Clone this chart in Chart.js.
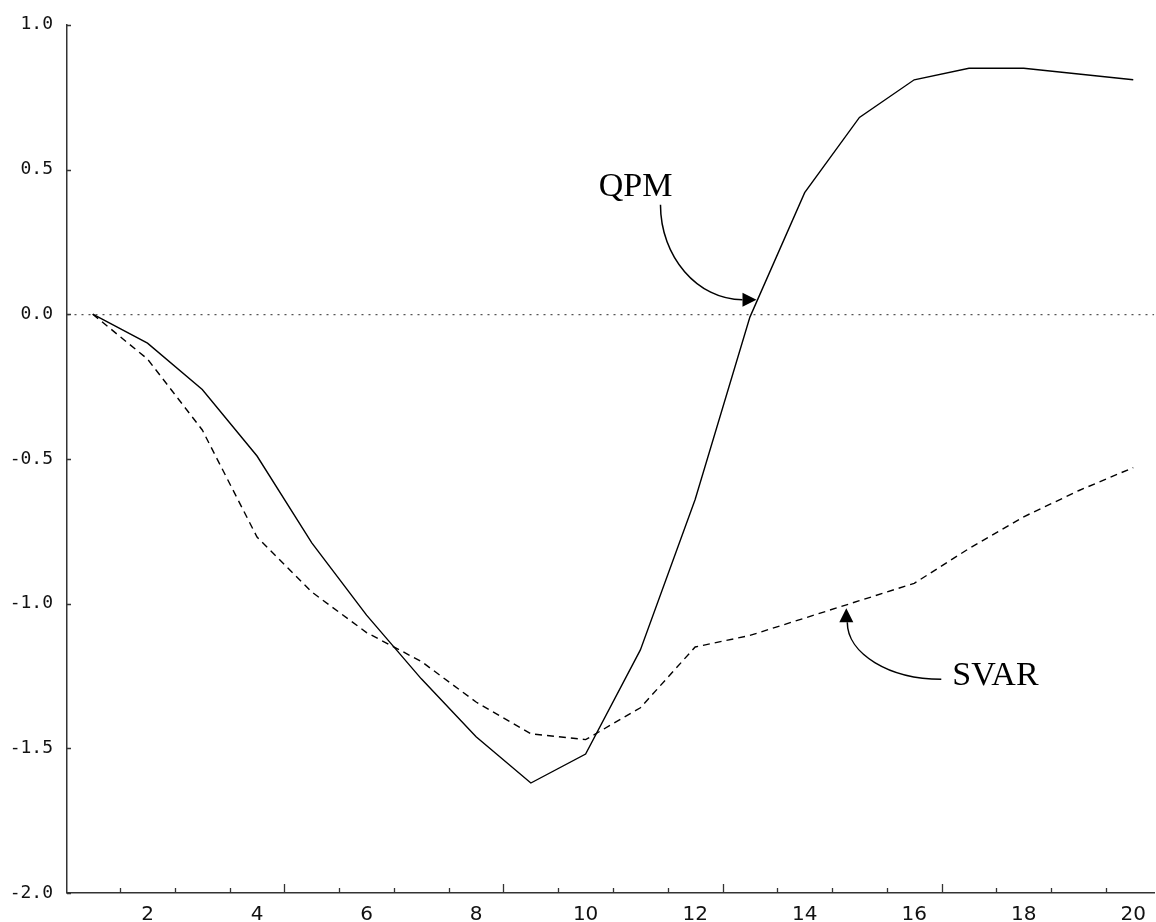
<!DOCTYPE html>
<html>
<head>
<meta charset="utf-8">
<script src="https://cdn.jsdelivr.net/npm/chart.js@4/dist/chart.umd.min.js"></script>
<style>
  html, body { margin: 0; padding: 0; background: #fff; }
  #wrap { width: 1156px; height: 922px; }
</style>
</head>
<body>
<div id="wrap"><canvas id="c" width="1156" height="922"></canvas></div>
<script>
// Quarters after the shock
const periods = [1, 2, 3, 4, 5, 6, 7, 8, 9, 10, 11, 12, 13, 14, 15, 16, 17, 18, 19, 20];

// Impulse responses
const qpm  = [0, -0.10, -0.26, -0.49, -0.79, -1.04, -1.26, -1.46, -1.62, -1.52,
              -1.16, -0.64, -0.01, 0.42, 0.68, 0.81, 0.85, 0.85, 0.83, 0.81];
const svar = [0, -0.155, -0.40, -0.77, -0.96, -1.10, -1.20, -1.34, -1.45, -1.47,
              -1.36, -1.15, -1.11, -1.05, -0.99, -0.93, -0.81, -0.70, -0.61, -0.53];

// Axis labels and tick marks
const xTickLabels = [2, 4, 6, 8, 10, 12, 14, 16, 18, 20];
const xTickMarks  = [1.5, 2.5, 3.5, 4.5, 5.5, 6.5, 7.5, 8.5, 9.5, 10.5,
                     11.5, 12.5, 13.5, 14.5, 15.5, 16.5, 17.5, 18.5, 19.5];
const xMajorMarks = [4.5, 8.5, 12.5, 16.5];

// Curved-arrow labels, anchored at the arrow tip (data units)
const callouts = [
  { text: 'QPM',  at: [13.12, 0.05],  align: 'right', label: [-84, -104],
    path: [[-96, -95], [-96, -43], [-59, 0], [-14, 0]],
    head: [[-14, -7], [-14, 7]] },
  { text: 'SVAR', at: [14.76, -1.016], align: 'left', label: [106, 77],
    path: [[95, 71], [43, 71], [1, 45.5], [1, 14]],
    head: [[-7, 14], [7, 14]] }
];

const series = (vals) => periods.map((p, i) => ({ x: p, y: vals[i] }));

const calloutPlugin = {
  id: 'callouts',
  afterDatasetsDraw(chart) {
    const { ctx, scales: { x, y } } = chart;
    callouts.forEach(c => {
      const tx = x.getPixelForValue(c.at[0]);
      const ty = y.getPixelForValue(c.at[1]);
      const p = c.path.map(([dx, dy]) => [tx + dx, ty + dy]);
      ctx.save();
      ctx.strokeStyle = '#000';
      ctx.fillStyle = '#000';
      ctx.lineWidth = 1.5;
      ctx.beginPath();
      ctx.moveTo(p[0][0], p[0][1]);
      ctx.bezierCurveTo(p[1][0], p[1][1], p[2][0], p[2][1], p[3][0], p[3][1]);
      ctx.stroke();
      ctx.beginPath();
      ctx.moveTo(tx, ty);
      c.head.forEach(([dx, dy]) => ctx.lineTo(tx + dx, ty + dy));
      ctx.closePath();
      ctx.fill();
      ctx.font = '34px "Liberation Serif"';
      ctx.textAlign = c.align;
      ctx.textBaseline = 'alphabetic';
      ctx.fillText(c.text, tx + c.label[0], ty + c.label[1]);
      ctx.restore();
    });
  }
};

const tickMarkPlugin = {
  id: 'tickMarks',
  afterDraw(chart) {
    const { ctx, chartArea, scales: { x, y } } = chart;
    ctx.save();
    ctx.strokeStyle = '#333';
    ctx.lineWidth = 1.3;
    ctx.beginPath();
    xTickMarks.forEach(v => {
      const px = Math.round(x.getPixelForValue(v)) + 0.5;
      const len = xMajorMarks.includes(v) ? 9 : 5;
      ctx.moveTo(px, chartArea.bottom);
      ctx.lineTo(px, chartArea.bottom - len);
    });
    y.ticks.forEach(t => {
      const py = Math.round(y.getPixelForValue(t.value)) + 0.5;
      ctx.moveTo(chartArea.left, py);
      ctx.lineTo(chartArea.left + 4, py);
    });
    ctx.stroke();
    ctx.restore();
  }
};

new Chart(document.getElementById('c'), {
  type: 'line',
  data: {
    datasets: [
      { label: 'QPM', data: series(qpm), borderColor: '#000', borderWidth: 1.4,
        pointRadius: 0, tension: 0, fill: false },
      { label: 'SVAR', data: series(svar), borderColor: '#000', borderWidth: 1.4,
        borderDash: [7, 5], pointRadius: 0, tension: 0, fill: false }
    ]
  },
  options: {
    responsive: false,
    animation: false,
    devicePixelRatio: 1,
    layout: { padding: { top: 20, right: 1, left: 0, bottom: 0 } },
    plugins: { legend: { display: false }, tooltip: { enabled: false } },
    scales: {
      x: {
        type: 'linear',
        min: 0.53,
        max: 20.38,
        afterFit: s => { s.height = 29; },
        afterBuildTicks: s => { s.ticks = xTickLabels.map(v => ({ value: v })); },
        grid: { display: false, drawTicks: false },
        border: { display: true, color: '#333', width: 1.5 },
        ticks: {
          autoSkip: false, maxRotation: 0, padding: 10,
          color: '#111',
          font: { family: '"DejaVu Sans"', size: 20 },
          callback: v => String(v)
        }
      },
      y: {
        type: 'linear',
        min: -2,
        max: 1,
        afterFit: s => { s.width = 67; },
        grid: {
          drawTicks: false,
          color: ctx => (ctx.tick && ctx.tick.value === 0) ? '#555' : 'rgba(0,0,0,0)',
          lineWidth: 1.2
        },
        border: { display: true, color: '#333', width: 1.5, dash: [2, 5] },
        ticks: {
          stepSize: 0.5, padding: 14,
          color: '#111',
          font: { family: '"DejaVu Sans Mono"', size: 18 },
          callback: v => v.toFixed(1)
        }
      }
    }
  },
  plugins: [calloutPlugin, tickMarkPlugin]
});
</script>
</body>
</html>
